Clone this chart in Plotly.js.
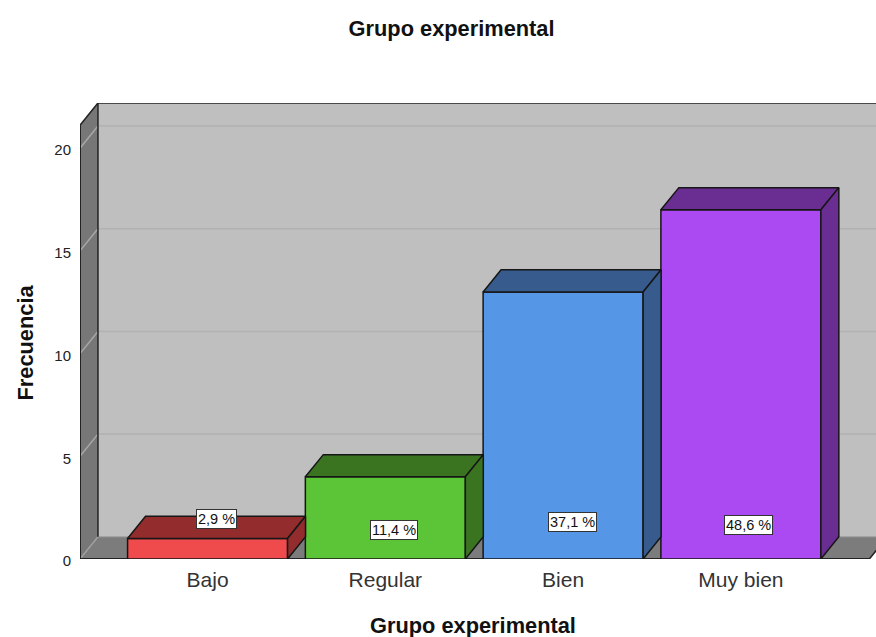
<!DOCTYPE html>
<html><head><meta charset="utf-8">
<script src="https://cdn.plot.ly/plotly-3.0.1.min.js"></script>
<style>html,body{margin:0;padding:0;background:#fff}</style></head>
<body><div id="chart" style="width:876px;height:637px"></div>
<script>
const categories = ["Bajo","Regular","Bien","Muy bien"];
const frequency = [1,4,13,17];
const percentLabels = ["2,9 %","11,4 %","37,1 %","48,6 %"];
const yTicks = [0,5,10,15,20];
const chartTitle = "Grupo experimental";
const xTitle = "Grupo experimental";
const yTitle = "Frecuencia";

const frontColors = ["#ef4b4c","#5cc437","#5596e6","#ab4af2"];
const darkColors = ["#922c2d","#3a7421","#365b8c","#6a2d92"];
const labelOffsetX = [0.048,0.05,0.05,0.045];
const labelHeightY = [1.95,1.41,1.8,1.65];

const barWidth = 0.9, depthX = 0.101, depthY = 1.08;
const xMin = -0.7176, xMax = 3.76, yMax = 22.2, wallTop = yMax - depthY;
const ink = "#161616";
const xs = categories.map((_,i)=>i);

function poly(px,py,fill){return {type:"path",xref:"x",yref:"y",layer:"below",
  path:px.map((x,i)=>(i?"L":"M")+x+","+py[i]).join(" ")+" Z",fillcolor:fill,line:{width:0}};}
function seg(x0,y0,x1,y1,c,w){return {type:"line",xref:"x",yref:"y",layer:"below",x0,y0,x1,y1,line:{color:c,width:w}};}

const left = xMin, bx = xMin+depthX, farX = xMax+0.2, floorEnd = left+4.44;
const shapes = [
  poly([bx,farX,farX,bx],[depthY,depthY,yMax,yMax],"#bfbfbf"),
  poly([left,bx,bx,left],[0,depthY,yMax,wallTop],"#777777"),
  poly([left,floorEnd,floorEnd+depthX,bx],[0,0,depthY,depthY],"#7c7c7c"),
];
yTicks.slice(1).forEach(v=>{
  shapes.push(seg(bx,v+depthY,farX,v+depthY,"#b1b1b1",1.5));
  shapes.push(seg(left,v,bx,v+depthY,"#a8a8a8",1.5));
});
shapes.push(seg(bx,depthY,farX,depthY,"#9a9a9a",1));
shapes.push(seg(left,0,bx,depthY,"#a0a0a0",1.5));
shapes.push(seg(bx,yMax,farX,yMax,"#222",1.5));
shapes.push(seg(bx,depthY,bx,yMax,"#222",1.5));
shapes.push(seg(left,wallTop,bx,yMax,"#222",1.5));
shapes.push(seg(floorEnd,0,floorEnd+depthX,depthY,"#222",1.5));
shapes.push(seg(left,0,floorEnd,0,"#222",2));
shapes.push(seg(left,0,left,wallTop,"#222",2));

const faces = [];
categories.forEach((c,i)=>{
  const v=frequency[i], a=xs[i]-barWidth/2, b=xs[i]+barWidth/2;
  faces.push({type:"scatter",mode:"lines",x:[a,a+depthX,b+depthX,b,a],y:[v,v+depthY,v+depthY,v,v],
    fill:"toself",fillcolor:darkColors[i],line:{color:ink,width:1.5},hoverinfo:"skip",showlegend:false});
  faces.push({type:"scatter",mode:"lines",x:[b,b+depthX,b+depthX,b,b],y:[0,depthY,v+depthY,v,0],
    fill:"toself",fillcolor:darkColors[i],line:{color:ink,width:1.5},hoverinfo:"skip",showlegend:false});
});

const bars = {type:"bar",x:xs,y:frequency,width:barWidth,text:categories,textposition:"none",
  marker:{color:frontColors,line:{color:ink,width:1.5}},showlegend:false,hoverinfo:"y+text"};

const annotations = percentLabels.map((t,i)=>({xref:"x",yref:"y",x:xs[i]+labelOffsetX[i],y:labelHeightY[i],
  text:t,showarrow:false,bgcolor:"#ffffff",bordercolor:"#333",borderwidth:1,borderpad:1,
  font:{family:"Liberation Sans",size:14.5,color:"#111"}}));
const boldFont = {family:"Liberation Sans",size:21.8,color:"#111",weight:"bold"};
annotations.push({xref:"paper",yref:"paper",x:0.4943,y:0,yshift:-66,xanchor:"center",yanchor:"middle",
  text:xTitle,showarrow:false,font:boldFont});
annotations.push({xref:"paper",yref:"paper",x:0,xshift:-55,y:0.4748,xanchor:"center",yanchor:"middle",
  textangle:-90,text:yTitle,showarrow:false,font:boldFont});

Plotly.newPlot("chart",[bars,...faces],{
  width:876,height:637,margin:{l:80,r:0,t:103,b:78},
  paper_bgcolor:"#fff",plot_bgcolor:"#fff",
  title:{text:chartTitle,x:0.5155,xanchor:"center",y:0.956,yanchor:"middle",font:boldFont},
  bargap:0.1,
  xaxis:{range:[xMin,xMax],tickvals:xs,ticktext:categories,showgrid:false,zeroline:false,showline:false,ticks:"",
    ticklabelstandoff:6,
    tickfont:{family:"Liberation Sans",size:21,color:"#333"}},
  yaxis:{range:[0,yMax],tickvals:yTicks,showgrid:false,zeroline:false,showline:false,ticks:"",
    ticklabelstandoff:8,ticklabelshift:2,
    tickfont:{family:"Liberation Sans",size:15,color:"#222"}},
  shapes,annotations
},{displayModeBar:false});
</script></body></html>
